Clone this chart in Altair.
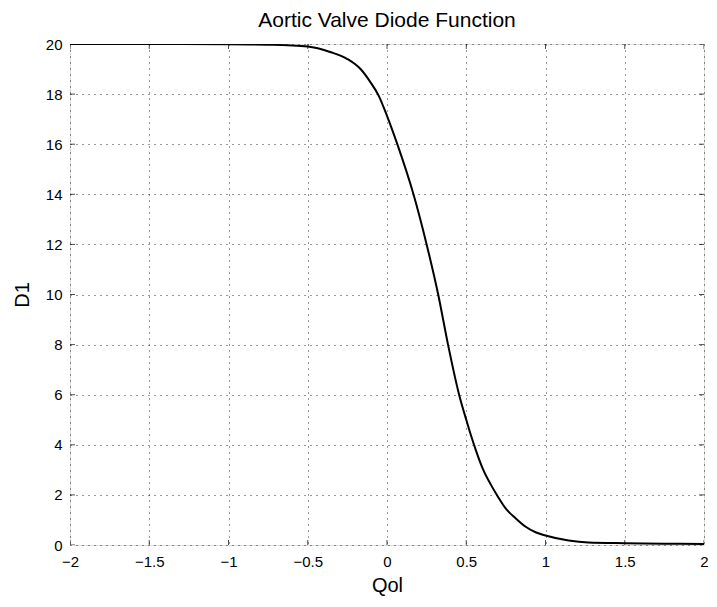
import altair as alt
import pandas as pd

# Curve values
qol = [-2.0, -1.5, -1.0, -0.75, -0.5, -0.354, -0.25, -0.167, -0.104, -0.052, 0.0,
       0.065, 0.167, 0.25, 0.323, 0.385, 0.455, 0.5, 0.531, 0.5625, 0.604, 0.656,
       0.698, 0.75, 0.8125, 0.875, 0.9375, 1.0, 1.146, 1.27, 1.5, 1.75, 2.0]
d1 = [20.0, 20.0, 19.99, 19.97, 19.9, 19.67, 19.4, 19.0, 18.47, 17.93, 17.13,
      16.0, 14.0, 12.0, 10.0, 8.0, 6.0, 5.0, 4.35, 3.75, 3.05, 2.4,
      1.95, 1.45, 1.06, 0.73, 0.51, 0.38, 0.18, 0.1, 0.07, 0.05, 0.04]

x_ticks = [-2, -1.5, -1, -0.5, 0, 0.5, 1, 1.5, 2]
y_ticks = [0, 2, 4, 6, 8, 10, 12, 14, 16, 18, 20]

df = pd.DataFrame({"Qol": qol, "D1": d1})
xt = pd.DataFrame({"t": x_ticks})
yt = pd.DataFrame({"t": y_ticks})

FONT = "Liberation Sans"

xscale = alt.Scale(domain=[-2, 2], nice=False, zero=False)
yscale = alt.Scale(domain=[0, 20], nice=False, zero=False)

x_axis = alt.Axis(
    values=x_ticks, format="~g", title="Qol", grid=True,
    gridColor="black", gridDash=[1, 5], gridOpacity=0.8, gridWidth=1,
    tickSize=0, domain=False, labelFontSize=15, labelColor="black",
    labelFont=FONT, labelPadding=9, labelFlush=False,
    titleFont=FONT, titleFontSize=20, titleFontWeight="normal",
    titleColor="black", titleY=46, titleBaseline="alphabetic",
)
y_axis = alt.Axis(
    values=y_ticks, format="~g", title="D1", grid=True,
    gridColor="black", gridDash=[1, 5], gridOpacity=0.8, gridWidth=1,
    tickSize=0, domain=False, labelFontSize=15, labelColor="black",
    labelFont=FONT, labelPadding=8, labelFlush=False,
    titleFont=FONT, titleFontSize=20, titleFontWeight="normal",
    titleColor="black", titleX=-48, titleBaseline="middle",
)

line = alt.Chart(df).mark_line(color="black", strokeWidth=2, clip=True,
                               interpolate="monotone").encode(
    x=alt.X("Qol:Q", scale=xscale, axis=x_axis),
    y=alt.Y("D1:Q", scale=yscale, axis=y_axis),
)

# inward tick marks on all four sides (clipped to plot area)
def vtick(yval):
    return alt.Chart(xt).mark_tick(color="black", size=10, thickness=1, clip=True,
                                   orient="vertical").encode(
        x=alt.X("t:Q", scale=xscale), y=alt.datum(yval, scale=yscale))

def htick(xval):
    return alt.Chart(yt).mark_tick(color="black", size=10, thickness=1, clip=True,
                                   orient="horizontal").encode(
        y=alt.Y("t:Q", scale=yscale), x=alt.datum(xval, scale=xscale))

chart = alt.layer(line, vtick(0), vtick(20), htick(-2), htick(2)).properties(
    width=634, height=501,
    title=alt.TitleParams("Aortic Valve Diode Function", font=FONT, fontSize=21,
                          fontWeight="normal", color="black", offset=6),
    autosize=alt.AutoSizeParams(type="none"),
    padding={"left": 62, "top": 36, "right": 5, "bottom": 51},
).configure_view(stroke="black", strokeWidth=1.5).configure(background="white")

chart.save("out.html", embed_options={"renderer": "svg", "actions": False})
